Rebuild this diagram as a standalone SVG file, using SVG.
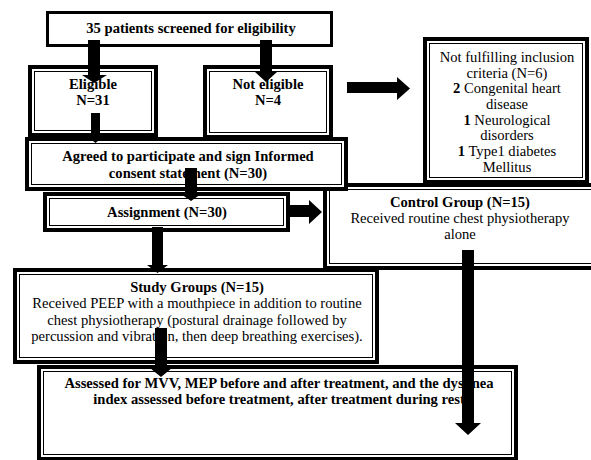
<svg xmlns="http://www.w3.org/2000/svg" width="591" height="460" viewBox="0 0 591 460">
<style>
text{font-family:"Liberation Serif","Times New Roman",serif;font-size:14.6px;fill:#000;text-anchor:middle}
.b{font-weight:bold}
.outer{fill:#fff;stroke:#000;stroke-width:4}
.inner{fill:none;stroke:#000;stroke-width:1}
.single{fill:#fff;stroke:#000;stroke-width:3}
.arr{fill:#000;stroke:none}
</style>
<rect width="591" height="460" fill="#fff"/>
<g id="screened">
<rect class="single" x="47.5" y="12.5" width="284" height="33"/>
<text class="b" x="191" y="33">35 patients screened for eligibility</text>
</g>
<g id="eligible">
<rect class="outer" x="30" y="67" width="126" height="68"/>
<rect class="inner" x="34.5" y="71.5" width="117" height="59"/>
<text class="b" x="93" y="88.5">Eligible</text>
<text class="b" x="93" y="105">N=31</text>
</g>
<g id="not-eligible">
<rect class="outer" x="205" y="67" width="126" height="70"/>
<rect class="inner" x="209.5" y="71.5" width="117" height="61"/>
<text class="b" x="268" y="88.5">Not eligible</text>
<text class="b" x="268" y="105">N=4</text>
</g>
<g id="not-fulfilling">
<rect class="outer" x="425" y="39" width="162" height="143"/>
<rect class="inner" x="429.5" y="43.5" width="153" height="134"/>
<text x="507" y="62">Not fulfilling inclusion</text>
<text x="507" y="77.5">criteria (N=6)</text>
<text x="507" y="93"><tspan class="b">2</tspan> Congenital heart</text>
<text x="507" y="108.5">disease</text>
<text x="507" y="124.5"><tspan class="b">1</tspan> Neurological</text>
<text x="507" y="140">disorders</text>
<text x="507" y="156"><tspan class="b">1</tspan> Type1 diabetes</text>
<text x="507" y="171.5">Mellitus</text>
</g>
<g id="control">
<rect class="outer" x="325" y="185" width="275" height="83"/>
<rect class="inner" x="329.5" y="189.5" width="275" height="74"/>
<text class="b" x="460" y="207">Control Group (N=15)</text>
<text x="460" y="222.5">Received routine chest physiotherapy</text>
<text x="460" y="238.5">alone</text>
</g>
<g id="agreed">
<rect class="outer" x="27" y="139" width="319" height="50"/>
<rect class="inner" x="31.5" y="143.5" width="310" height="41"/>
<text class="b" x="188" y="160.5">Agreed to participate and sign Informed</text>
<text class="b" x="188" y="177.5">consent statement (N=30)</text>
</g>
<g id="assignment">
<rect class="outer" x="45" y="194" width="243" height="36"/>
<rect class="inner" x="49.5" y="198.5" width="234" height="27"/>
<text class="b" x="167" y="217">Assignment (N=30)</text>
</g>
<g id="study">
<rect class="outer" x="15" y="270" width="362" height="92"/>
<rect class="inner" x="19.5" y="274.5" width="353" height="83"/>
<text class="b" x="197" y="291.5">Study Groups (N=15)</text>
<text x="197" y="308">Received PEEP with a mouthpiece in addition to routine</text>
<text x="197" y="324.5">chest physiotherapy (postural drainage followed by</text>
<text x="197" y="341">percussion and vibration, then deep breathing exercises).</text>
</g>
<g id="assessed">
<rect class="outer" x="39" y="367" width="477" height="92"/>
<rect class="inner" x="43.5" y="371.5" width="468" height="83"/>
<text class="b" x="279" y="388">Assessed for MVV, MEP before and after treatment, and the dyspnea</text>
<text class="b" x="279" y="404">index assessed before treatment, after treatment during rest</text>
</g>
<g id="connectors">
<polygon class="arr" points="88,40 100,40 100,75 107,75 94,83 82,75 88,75"/>
<polygon class="arr" points="260,40 272,40 272,72 277,72 266,82 255,72 260,72"/>
<polygon class="arr" points="91,113 100,113 100,136 104,136 95.5,143 87,136 91,136"/>
<polygon class="arr" points="347,82 397,82 397,77 410,88.5 397,100 397,93 347,93"/>
<polygon class="arr" points="185,168 197,168 197,194 201,194 191,201 181,194 185,194"/>
<polygon class="arr" points="289,205 309,205 309,200 322,212 309,224 309,217 289,217"/>
<polygon class="arr" points="152,227 163,227 163,265 168,265 157.5,273 147,265 152,265"/>
<polygon class="arr" points="155,328 167,328 167,368 172,368 161,377 150,368 155,368"/>
<polygon class="arr" points="462,250 474,250 474,423 481,423 468,435 455,423 462,423"/>
</g>
</svg>
